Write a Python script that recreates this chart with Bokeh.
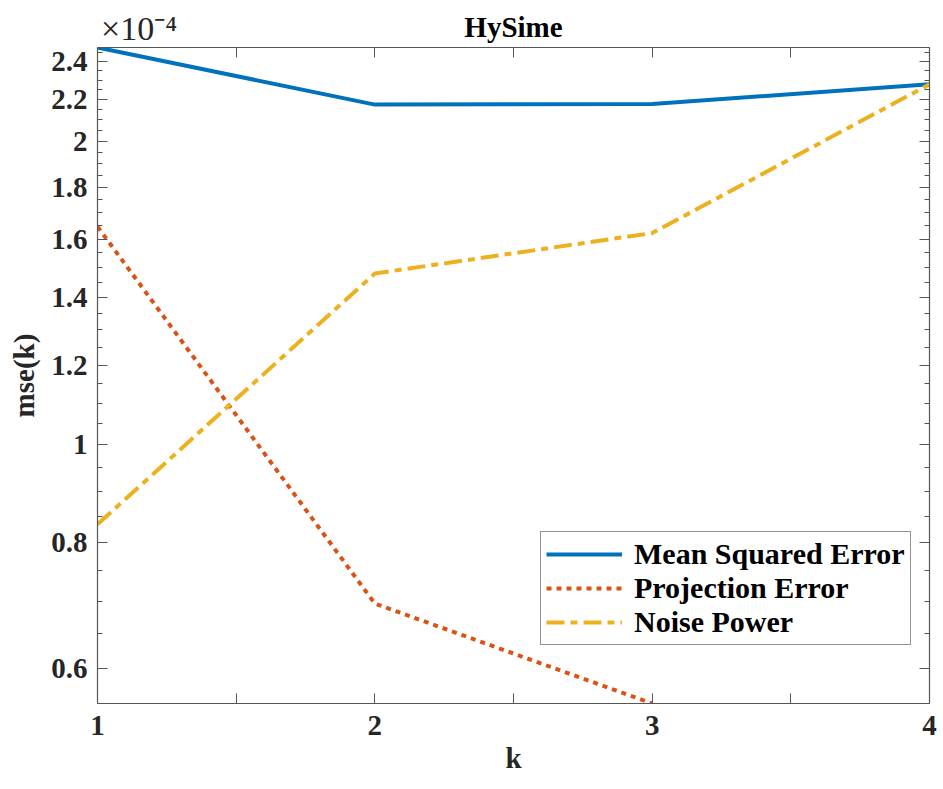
from bokeh.plotting import figure
from bokeh.models import (LogAxis, LinearAxis, FixedTicker, Range1d, Legend, LegendItem)
from bokeh.embed import file_html
from bokeh.resources import INLINE

k = [1, 2, 3, 4]
mse = [2.478, 2.175, 2.178, 2.278]          # x 1e-4
proj_err = [1.646, 0.696, 0.554, float("nan")]
noise_pow = [0.834, 1.479, 1.622, 2.278]

y_ticks = [0.6, 0.8, 1.0, 1.2, 1.4, 1.6, 1.8, 2.0, 2.2, 2.4]
y_tick_labels = ["0.6", "0.8", "1", "1.2", "1.4", "1.6", "1.8", "2", "2.2", "2.4"]
y_minor = [round(0.55 + 0.05 * i, 2) for i in range(40) if 0.55 + 0.05 * i < 2.5]
x_ticks = [1, 1.5, 2, 2.5, 3, 3.5, 4]
x_tick_labels = {1: "1", 1.5: "", 2: "2", 2.5: "", 3: "3", 3.5: "", 4: "4"}
title_text = "HySime"
exponent_text = "\u00d710\u207b\u2074"

FONT = "Liberation Serif"
FS = "29px"
AX = "#555555"
TXT = "#262626"

p = figure(width=943, height=789, output_backend="svg", toolbar_location=None,
           y_axis_type="log", x_range=Range1d(1, 4), y_range=Range1d(0.554, 2.478),
           min_border_left=97, min_border_right=14, min_border_top=47, min_border_bottom=86,
           x_axis_location=None, y_axis_location=None)
p.grid.visible = False
p.outline_line_color = None
p.background_fill_color = "white"
p.border_fill_color = "white"

def style(ax):
    ax.axis_line_color = AX
    ax.axis_line_width = 1.2
    ax.major_tick_line_color = AX
    ax.minor_tick_line_color = AX
    ax.major_tick_in = 10
    ax.major_tick_out = 0
    ax.minor_tick_in = 5
    ax.minor_tick_out = 0
    ax.major_label_text_font = FONT
    ax.major_label_text_font_style = "bold"
    ax.major_label_text_font_size = FS
    ax.major_label_text_color = TXT
    ax.axis_label_text_font = FONT
    ax.axis_label_text_font_style = "bold"
    ax.axis_label_text_font_size = FS
    ax.axis_label_text_color = TXT

yt = FixedTicker(ticks=y_ticks, minor_ticks=y_minor)
xt = FixedTicker(ticks=x_ticks, minor_ticks=[])

left = LogAxis(ticker=yt, axis_label="mse(k)")
style(left)
left.major_label_overrides = {t: l for t, l in zip(y_ticks, y_tick_labels)}
left.major_label_standoff = 10
left.axis_label_standoff = 8
p.add_layout(left, "left")

right = LogAxis(ticker=yt)
style(right)
right.major_label_overrides = {t: "" for t in y_ticks}
right.major_label_text_font_size = "0px"
right.major_label_standoff = 0
p.add_layout(right, "right")

bottom = LinearAxis(ticker=xt, axis_label="k")
style(bottom)
bottom.major_label_overrides = x_tick_labels
bottom.major_label_standoff = 12
bottom.axis_label_standoff = 4
p.add_layout(bottom, "below")

top = LinearAxis(ticker=xt)
style(top)
top.major_label_overrides = {t: "" for t in x_ticks}
top.major_label_text_font_size = "0px"
top.major_label_standoff = 0
p.add_layout(top, "above")

# texts above the frame: an axis without lines carries the exponent and the title
EXP_POS = 1.15
texts = LinearAxis(ticker=FixedTicker(ticks=[EXP_POS], minor_ticks=[]), axis_label=title_text)
texts.major_label_overrides = {EXP_POS: exponent_text}
texts.axis_line_color = None
texts.major_tick_line_color = None
texts.minor_tick_line_color = None
texts.major_tick_in = 0
texts.major_tick_out = 0
texts.major_label_standoff = 1
texts.major_label_text_font = FONT
texts.major_label_text_font_size = "34px"
texts.major_label_text_color = TXT
texts.axis_label_text_font = FONT
texts.axis_label_text_font_style = "bold"
texts.axis_label_text_font_size = FS
texts.axis_label_text_color = "black"
texts.axis_label_standoff = -36
p.add_layout(texts, "above")

r1 = p.line(k, mse, line_color="#0072BD", line_width=4)
r2 = p.line(k, proj_err, line_color="#D95319", line_width=4, line_dash="5 5")
r3 = p.line(k, noise_pow, line_color="#EDB120", line_width=4, line_dash="18 6 7 6")

legend = Legend(items=[LegendItem(label="Mean Squared Error", renderers=[r1]),
                       LegendItem(label="Projection Error", renderers=[r2]),
                       LegendItem(label="Noise Power", renderers=[r3])],
                location=(443, 58))
legend.label_text_font = FONT
legend.label_text_font_style = "bold"
legend.label_text_font_size = "30px"
legend.label_text_color = "black"
legend.glyph_width = 76
legend.glyph_height = 30
legend.label_height = 30
legend.spacing = 0
legend.padding = 5
legend.margin = 0
legend.label_standoff = 12
legend.border_line_color = "#262626"
legend.border_line_width = 1
legend.background_fill_color = "white"
legend.background_fill_alpha = 1
p.add_layout(legend, "center")

open("out.html", "w").write(file_html(p, INLINE))
